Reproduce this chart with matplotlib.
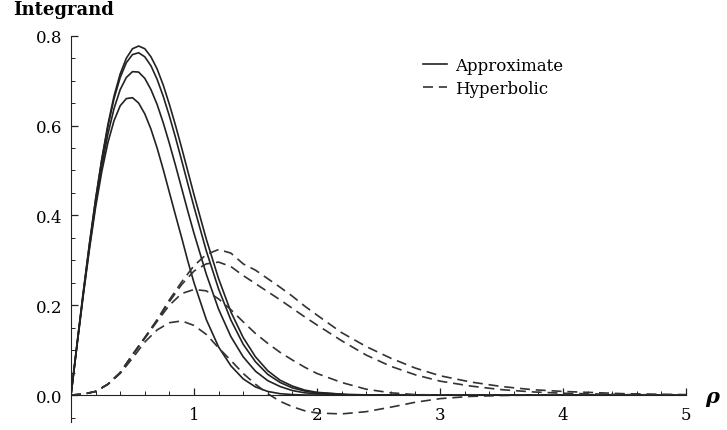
import matplotlib
matplotlib.use("Agg")
import matplotlib.pyplot as plt
from matplotlib.ticker import MultipleLocator, FixedLocator

plt.rcParams['font.family'] = ['DejaVu Serif']

# solid family ("Approximate")
rho_a = [0.0, 0.05, 0.1, 0.15, 0.2, 0.25, 0.3, 0.35, 0.4, 0.45, 0.5, 0.55,
         0.6, 0.65, 0.7, 0.75, 0.8, 0.85, 0.9, 0.95, 1.0, 1.1, 1.2, 1.3,
         1.4, 1.5, 1.6, 1.7, 1.8, 1.9, 2.0, 2.25, 2.5, 3.0, 4.0, 5.0]
approx_1 = [0.0, 0.116, 0.229, 0.337, 0.436, 0.525, 0.602, 0.666, 0.715,
            0.750, 0.771, 0.777, 0.771, 0.753, 0.726, 0.690, 0.647, 0.600,
            0.550, 0.498, 0.446, 0.347, 0.259, 0.185, 0.128, 0.085, 0.054,
            0.033, 0.020, 0.011, 0.006, 0.001, 0.0, 0.0, 0.0, 0.0]
approx_2 = [0.0, 0.116, 0.229, 0.336, 0.435, 0.523, 0.598, 0.660, 0.707,
            0.740, 0.758, 0.762, 0.753, 0.733, 0.703, 0.665, 0.621, 0.573,
            0.522, 0.470, 0.419, 0.321, 0.236, 0.167, 0.113, 0.074, 0.046,
            0.028, 0.016, 0.009, 0.005, 0.001, 0.0, 0.0, 0.0, 0.0]
approx_3 = [0.0, 0.114, 0.224, 0.329, 0.425, 0.509, 0.581, 0.638, 0.680,
            0.707, 0.720, 0.719, 0.705, 0.680, 0.647, 0.606, 0.560, 0.511,
            0.460, 0.409, 0.360, 0.269, 0.191, 0.130, 0.085, 0.053, 0.032,
            0.019, 0.010, 0.005, 0.003, 0.0, 0.0, 0.0, 0.0, 0.0]
approx_4 = [0.0, 0.113, 0.223, 0.325, 0.418, 0.497, 0.562, 0.611, 0.644,
            0.660, 0.662, 0.650, 0.626, 0.592, 0.550, 0.502, 0.451, 0.400,
            0.350, 0.298, 0.250, 0.168, 0.107, 0.065, 0.036, 0.018, 0.008,
            0.003, 0.001, 0.0, 0.0, 0.0, 0.0, 0.0, 0.0, 0.0]

# dashed family ("Hyperbolic")
rho_h = [0.0, 0.1, 0.2, 0.3, 0.4, 0.5, 0.6, 0.7, 0.8, 0.9, 1.0, 1.1, 1.2,
         1.3, 1.4, 1.5, 1.6, 1.7, 1.8, 1.9, 2.0, 2.2, 2.4, 2.6, 2.8, 3.0,
         3.25, 3.5, 3.75, 4.0, 4.5, 5.0]
hyper_1 = [0.0, 0.002, 0.008, 0.024, 0.050, 0.090, 0.128, 0.168, 0.212,
           0.252, 0.288, 0.313, 0.324, 0.316, 0.292, 0.278, 0.259, 0.240,
           0.220, 0.198, 0.178, 0.139, 0.108, 0.082, 0.060, 0.043, 0.029,
           0.019, 0.012, 0.008, 0.003, 0.001]
hyper_2 = [0.0, 0.002, 0.008, 0.024, 0.050, 0.090, 0.128, 0.166, 0.208,
           0.246, 0.276, 0.292, 0.296, 0.286, 0.266, 0.248, 0.230, 0.212,
           0.193, 0.174, 0.156, 0.121, 0.089, 0.064, 0.045, 0.031, 0.020,
           0.012, 0.007, 0.004, 0.001, 0.0]
hyper_3 = [0.0, 0.002, 0.008, 0.024, 0.050, 0.088, 0.126, 0.164, 0.200,
           0.226, 0.235, 0.232, 0.214, 0.190, 0.163, 0.137, 0.115, 0.095,
           0.078, 0.062, 0.048, 0.028, 0.013, 0.005, 0.001, 0.0, 0.0,
           0.0, 0.0, 0.0, 0.0, 0.0]
hyper_4 = [0.0, 0.002, 0.008, 0.024, 0.048, 0.082, 0.118, 0.145, 0.161,
           0.165, 0.155, 0.135, 0.105, 0.077, 0.048, 0.024, 0.003, -0.014,
           -0.026, -0.035, -0.040, -0.042, -0.037, -0.027, -0.016, -0.008,
           -0.003, -0.001, 0.0, 0.0, 0.0, 0.0]

fig = plt.figure(figsize=(7.27, 4.31), dpi=100, facecolor='w')
ax = fig.add_axes([71/727, 8/431, 615/727, 386.3/431])

ink = '#222222'
for i, ys in enumerate([approx_1, approx_2, approx_3, approx_4]):
    ax.plot(rho_a, ys, color=ink, lw=1.2,
            label='Approximate' if i == 0 else None)
for i, ys in enumerate([hyper_1, hyper_2, hyper_3, hyper_4]):
    ax.plot(rho_h, ys, color='#333333', lw=1.2, linestyle=(0, (6, 3.5)),
            label='Hyperbolic' if i == 0 else None)

ax.set_xlim(0, 5)
ax.set_ylim(-0.06, 0.8)

for s in ['top', 'right']:
    ax.spines[s].set_visible(False)
ax.spines['left'].set_position(('data', 0))
ax.spines['bottom'].set_position(('data', 0))
ax.spines['left'].set_color(ink)
ax.spines['bottom'].set_color(ink)

ax.xaxis.set_major_locator(FixedLocator([1, 2, 3, 4, 5]))
ax.xaxis.set_minor_locator(MultipleLocator(0.2))
ax.yaxis.set_major_locator(FixedLocator([0.0, 0.2, 0.4, 0.6, 0.8]))
ax.yaxis.set_minor_locator(MultipleLocator(0.05))
ax.set_yticklabels(['0.0', '0.2', '0.4', '0.6', '0.8'])
ax.tick_params(which='both', direction='in', color=ink, labelsize=12)
ax.tick_params(which='major', length=5, width=0.9)
ax.tick_params(which='minor', length=3, width=0.7)
ax.tick_params(axis='x', pad=8)
ax.tick_params(axis='y', pad=6)

fig.text(13/727, 1 - 10/431, 'Integrand', fontsize=13, fontweight='bold',
         ha='left', va='center')
fig.text(712/727, 1 - 397/431, 'ρ', fontsize=15, fontweight='bold',
         fontstyle='italic', ha='center', va='center')

ax.legend(loc='upper left', bbox_to_anchor=(423/727, 1 - 58/431),
          bbox_transform=fig.transFigure, frameon=False, fontsize=12,
          handlelength=1.45, handletextpad=0.5, labelspacing=0.35,
          borderpad=0, borderaxespad=0)

fig.savefig('out.png', dpi=100)
